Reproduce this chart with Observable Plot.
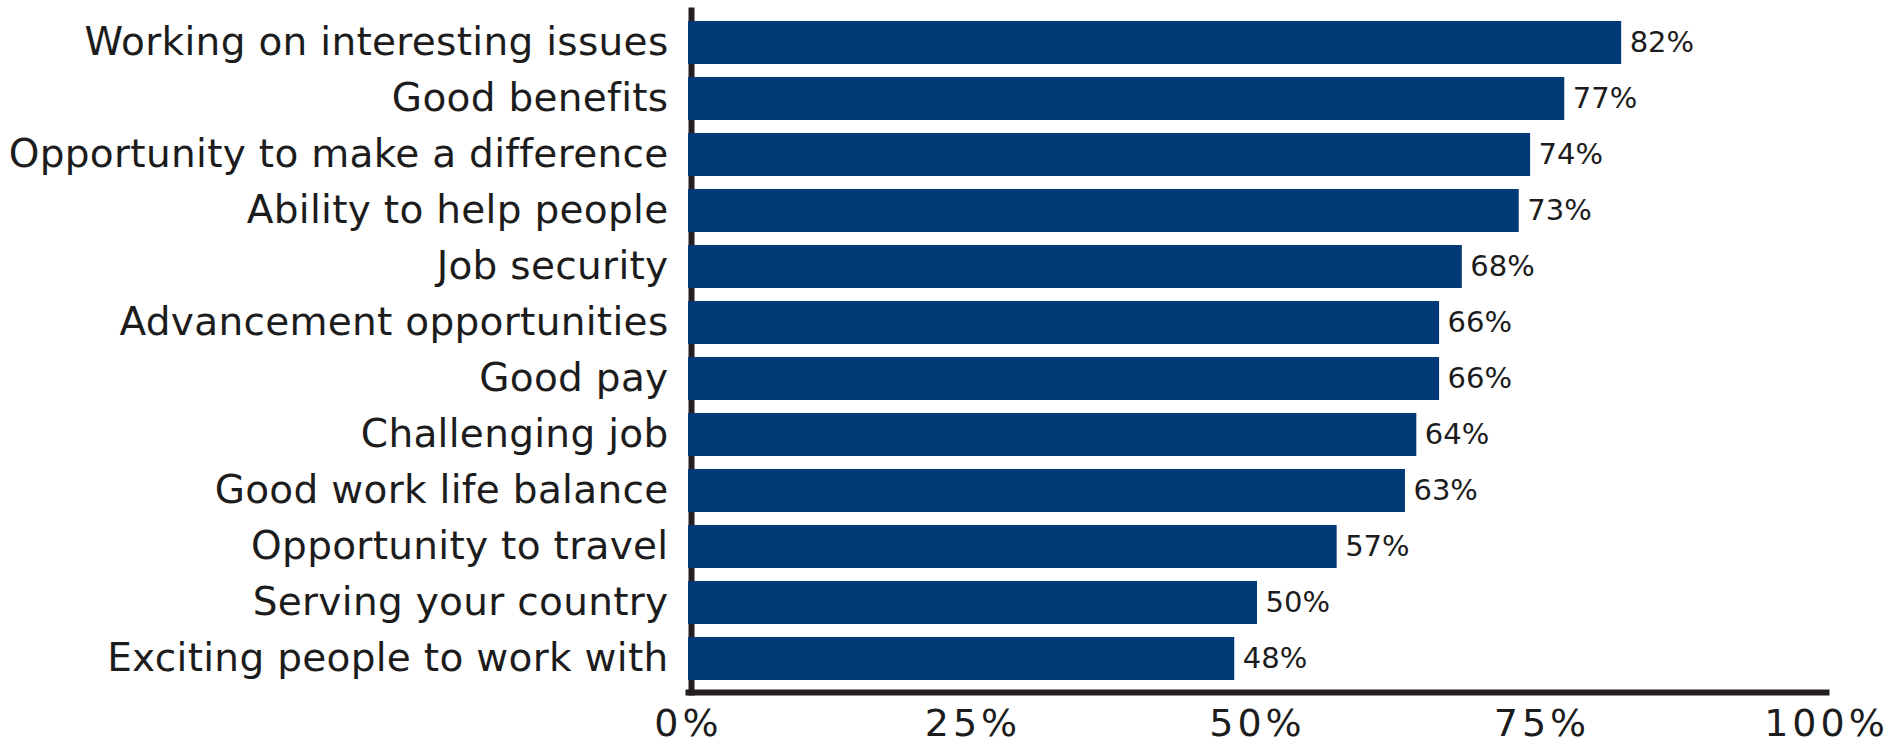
<!DOCTYPE html>
<html>
<head>
<meta charset="utf-8">
<script src="https://cdn.jsdelivr.net/npm/d3@7"></script>
<script src="https://cdn.jsdelivr.net/npm/@observablehq/plot@0.6"></script>
<style>
  html, body { margin: 0; padding: 0; background: #fff; }
  #chart svg { display: block; }
  #chart g[aria-label="x-axis tick label"] text { letter-spacing: 4px; }
  #chart g[aria-label="y-axis tick label"] text { letter-spacing: 0.3px; }
</style>
</head>
<body>
<div id="chart"></div>
<script>
const categories = [
  "Working on interesting issues",
  "Good benefits",
  "Opportunity to make a difference",
  "Ability to help people",
  "Job security",
  "Advancement opportunities",
  "Good pay",
  "Challenging job",
  "Good work life balance",
  "Opportunity to travel",
  "Serving your country",
  "Exciting people to work with"
];
const values = [82, 77, 74, 73, 68, 66, 66, 64, 63, 57, 50, 48];
const xTicks = [0, 25, 50, 75, 100];

const data = categories.map((c, i) => ({category: c, value: values[i]}));

const barColor = "#023a77";
const axisColor = "#231f20";
const textColor = "#1c1c1c";

const chart = Plot.plot({
  width: 1900,
  height: 745,
  marginLeft: 688,
  marginRight: 74,
  marginTop: 10,
  marginBottom: 53,
  style: {fontFamily: "DejaVu Sans", background: "#fff"},
  x: {domain: [0, 100], axis: null},
  y: {domain: categories, paddingInner: 0.228, paddingOuter: 0.1, axis: null},
  marks: [
    Plot.frame({anchor: "left", stroke: axisColor, strokeWidth: 6, dx: 3, strokeLinecap: "square"}),
    Plot.frame({anchor: "bottom", stroke: axisColor, strokeWidth: 6}),
    Plot.barX(data, {x: "value", y: "category", fill: barColor}),
    Plot.text(data, {
      x: "value", y: "category",
      text: d => d.value + "%",
      dx: 8, textAnchor: "start",
      fontSize: 29, fill: textColor
    }),
    Plot.axisY({
      tickSize: 0, tickPadding: 20, fontSize: 39, color: textColor, label: null
    }),
    Plot.axisX({
      ticks: xTicks, tickFormat: d => d + "%",
      tickSize: 0, tickPadding: 17, fontSize: 38, color: textColor, label: null
    })
  ]
});
document.getElementById("chart").appendChild(chart);
</script>
</body>
</html>
